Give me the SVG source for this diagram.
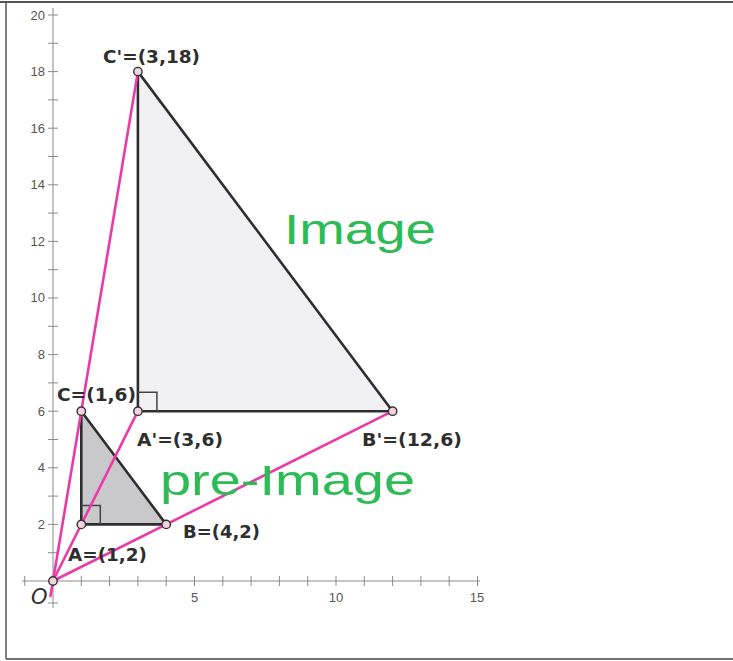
<svg xmlns="http://www.w3.org/2000/svg" width="733" height="661" viewBox="0 0 733 661">
<style>
.ax{stroke:#8a8a8a;stroke-width:1;fill:none}
.tl{font-family:"Liberation Sans",Arial,sans-serif;font-size:13px;fill:#555}
.tri{stroke:#2e2e2e;stroke-width:2.6;stroke-linejoin:round}
.ra{stroke:#444;stroke-width:1.5;fill:none}
.ray{stroke:#ea3aa6;stroke-width:2.6;fill:none;stroke-linecap:round}
.pt{fill:#f3d3e0;stroke:#333;stroke-width:1.4}
.lb{font-family:"DejaVu Sans",sans-serif;font-size:18px;font-weight:bold;fill:#2e2e2e}
.hw{font-family:"Liberation Sans",sans-serif;fill:#2dbb55}
</style>
<rect width="733" height="661" fill="#fff"/>
<g id="frame" fill="none">
<line x1="0" y1="2" x2="733" y2="2" stroke="#555" stroke-width="2"/>
<line x1="6" y1="2" x2="6" y2="659" stroke="#555" stroke-width="1.5"/>
<line x1="6" y1="659" x2="733" y2="659" stroke="#444" stroke-width="1.5"/>
</g>
<g id="axes">
<line class="ax" x1="53" y1="8" x2="53" y2="608"/>
<line class="ax" x1="22" y1="581" x2="480" y2="581"/>
<path class="ax" d="M48 15h10M48 43.3h10M48 71.6h10M48 99.9h10M48 128.2h10M48 156.5h10M48 184.8h10M48 213.1h10M48 241.4h10M48 269.7h10M48 298h10M48 326.3h10M48 354.6h10M48 382.9h10M48 411.2h10M48 439.5h10M48 467.8h10M48 496.1h10M48 524.4h10M48 552.7h10M48 603h10"/>
<path class="ax" d="M24.7 576v10M81.3 576v10M109.6 576v10M137.9 576v10M166.2 576v10M194.5 576v10M222.8 576v10M251.1 576v10M279.4 576v10M307.7 576v10M336 576v10M364.3 576v10M392.6 576v10M420.9 576v10M449.2 576v10M477.5 576v10"/>
<g class="tl" text-anchor="end">
<text x="45" y="20">20</text>
<text x="45" y="76">18</text>
<text x="45" y="133">16</text>
<text x="45" y="189">14</text>
<text x="45" y="246">12</text>
<text x="45" y="302">10</text>
<text x="45" y="359">8</text>
<text x="45" y="416">6</text>
<text x="45" y="472">4</text>
<text x="45" y="529">2</text>
</g>
<g class="tl" text-anchor="middle">
<text x="194.5" y="602">5</text>
<text x="336" y="602">10</text>
<text x="477" y="602">15</text>
</g>
</g>
<g id="image-triangle">
<polygon class="tri" points="137.9,71.6 392.6,411.2 137.9,411.2" fill="#f1f1f3"/>
<path class="ra" d="M137.9 392.2h19v19"/>
</g>
<g id="preimage-triangle">
<polygon class="tri" points="81.3,411.2 166.2,524.4 81.3,524.4" fill="#c9c9cb"/>
<path class="ra" d="M81.3 505.4h19v19"/>
</g>
<g id="connectors">
<line class="ray" x1="50.5" y1="596" x2="137.9" y2="71.6"/>
<line class="ray" x1="53" y1="581" x2="137.9" y2="411.2"/>
<line class="ray" x1="53" y1="581" x2="392.6" y2="411.2"/>
</g>
<g id="point-O"><circle class="pt" cx="53" cy="581" r="4.2"/><text x="31" y="604" font-family="DejaVu Sans,sans-serif" font-size="21" font-style="italic" fill="#2e2e2e">O</text></g>
<g id="point-A"><circle class="pt" cx="81.3" cy="524.4" r="4.2"/><text class="lb" x="68" y="561" textLength="79" lengthAdjust="spacingAndGlyphs">A=(1,2)</text></g>
<g id="point-B"><circle class="pt" cx="166.2" cy="524.4" r="4.2"/><text class="lb" x="183" y="538" textLength="77" lengthAdjust="spacingAndGlyphs">B=(4,2)</text></g>
<g id="point-C"><circle class="pt" cx="81.3" cy="411.2" r="4.2"/><text class="lb" x="57" y="401" textLength="79" lengthAdjust="spacingAndGlyphs">C=(1,6)</text></g>
<g id="point-A-prime"><circle class="pt" cx="137.9" cy="411.2" r="4.2"/><text class="lb" x="137" y="446" textLength="86" lengthAdjust="spacingAndGlyphs">A'=(3,6)</text></g>
<g id="point-B-prime"><circle class="pt" cx="392.6" cy="411.2" r="4.2"/><text class="lb" x="362" y="446" textLength="100" lengthAdjust="spacingAndGlyphs">B'=(12,6)</text></g>
<g id="point-C-prime"><circle class="pt" cx="137.9" cy="71.6" r="4.2"/><text class="lb" x="103" y="63" textLength="97" lengthAdjust="spacingAndGlyphs">C'=(3,18)</text></g>
<text class="hw" x="284" y="244" font-size="42" textLength="152" lengthAdjust="spacingAndGlyphs">Image</text>
<text class="hw" x="160" y="495" font-size="42" textLength="255" lengthAdjust="spacingAndGlyphs">pre-Image</text>
</svg>
